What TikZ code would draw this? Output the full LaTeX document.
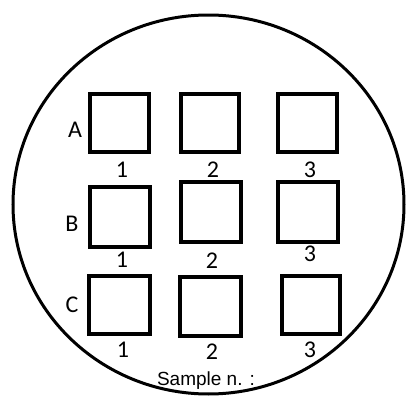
\documentclass[tikz,border=0pt]{standalone}
\usepackage{fontspec}
\setmainfont{Carlito}
\newfontfamily\arialf{Liberation Sans}
\usetikzlibrary{shapes.geometric}
\tikzset{
  sq/.style={draw=black, line width=4pt, rectangle, inner sep=0pt},
  lbl/.style={inner sep=0pt, font=\fontsize{24}{24}\selectfont},
}
\begin{document}
\begin{tikzpicture}[x=1pt,y=-1pt]
\useasboundingbox (0,0) rectangle (408,399);
\node[draw=black, line width=3pt, ellipse, minimum width=391pt, minimum height=379pt, inner sep=0pt] (plate) at (208.5,204.5) {};
% squares
\node[sq, minimum width=59pt, minimum height=58pt] (a1) at (119.5,123) {};
\node[sq, minimum width=58pt, minimum height=58pt] (a2) at (210,123) {};
\node[sq, minimum width=59pt, minimum height=58pt] (a3) at (307.5,123) {};
\node[sq, minimum width=60pt, minimum height=60pt] (b1) at (120,217) {};
\node[sq, minimum width=60pt, minimum height=60pt] (b2) at (211,212) {};
\node[sq, minimum width=60pt, minimum height=60pt] (b3) at (308,212) {};
\node[sq, minimum width=61pt, minimum height=58pt] (c1) at (119.5,305) {};
\node[sq, minimum width=61pt, minimum height=59pt] (c2) at (210.5,306.5) {};
\node[sq, minimum width=58pt, minimum height=58pt] (c3) at (311,305) {};
% row letters
\node[lbl] (la) at (75,130) {A};
\node[lbl] (lb) at (72,224) {B};
\node[lbl] (lc) at (72,305) {C};
% numbers
\node[lbl] (na1) at (122,170) {1};
\node[lbl] (na2) at (213,170) {2};
\node[lbl] (na3) at (310,170) {3};
\node[lbl] (nb1) at (122,260) {1};
\node[lbl] (nb2) at (212,261) {2};
\node[lbl] (nb3) at (310,254) {3};
\node[lbl] (nc1) at (123,350) {1};
\node[lbl] (nc2) at (212,352) {2};
\node[lbl] (nc3) at (310,350) {3};
\node[inner sep=0pt, anchor=base, font=\arialf\fontsize{19}{19}\selectfont] (sample) at (206,385) {Sample n. :};
\end{tikzpicture}
\end{document}
